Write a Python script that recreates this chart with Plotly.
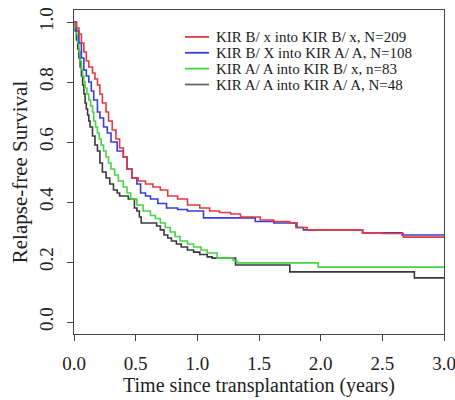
import plotly.graph_objects as go

# ---- data ----
red_t = [0, .02, .04, .06, .08, .10, .12, .15, .17, .19, .21, .23, .26, .28, .31, .34, .37, .40, .43, .47,
         .52, .58, .64, .70, .76, .84, .92, 1.02, 1.10, 1.18, 1.27, 1.35, 1.51, 1.62, 1.75, 1.81, 1.89, 2.34,
         2.50, 2.67, 3.0]
red_s = [1, .98, .96, .93, .90, .87, .85, .83, .81, .79, .76, .73, .70, .67, .64, .61, .58, .55, .51, .48,
         .47, .46, .45, .44, .42, .41, .39, .38, .37, .365, .36, .35, .34, .335, .33, .315, .307, .297,
         .295, .283, .283]

blue_t = [0, .02, .04, .06, .08, .10, .12, .14, .16, .19, .21, .24, .27, .30, .35, .40, .43, .47, .51, .54,
          .58, .62, .68, .75, .84, .92, 1.05, 1.47, 1.62, 1.80, 1.86, 2.34, 2.66, 3.0]
blue_s = [1, .97, .93, .88, .84, .82, .80, .77, .74, .70, .68, .65, .63, .60, .57, .55, .51, .48, .46, .43,
          .42, .41, .395, .38, .375, .37, .347, .335, .33, .315, .307, .297, .29, .29]

green_t = [0, .01, .02, .03, .04, .05, .06, .07, .08, .09, .105, .12, .135, .15, .16, .175, .19, .205, .22,
           .24, .26, .28, .30, .33, .36, .40, .43, .46, .51, .56, .62, .66, .70, .74, .78, .82, .86, .92, .97,
           1.03, 1.08, 1.16, 1.29, 1.32, 1.98, 3.0]
green_s = [1, .98, .96, .93, .90, .87, .84, .82, .80, .78, .76, .74, .72, .70, .67, .65, .63, .61, .59,
           .57, .55, .53, .51, .49, .47, .45, .43, .41, .39, .37, .355, .345, .33, .315, .30, .285, .27, .26,
           .25, .24, .23, .213, .205, .197, .183, .183]

black_t = [0, .01, .02, .03, .04, .05, .06, .07, .08, .09, .10, .11, .12, .13, .15, .17, .19, .21, .23, .26,
           .29, .32, .35, .37, .44, .49, .51, .53, .545, .64, .67, .70, .73, .76, .79, .83, .87, .92, .97,
           1.02, 1.08, 1.12, 1.31, 1.75, 2.76, 3.0]
black_s = [1, .97, .94, .91, .88, .85, .82, .79, .76, .73, .71, .69, .67, .65, .62, .59, .57, .53, .50, .48,
           .46, .44, .43, .42, .41, .38, .37, .35, .33, .33, .32, .307, .29, .28, .27, .26, .25, .24, .233,
           .225, .217, .213, .19, .167, .147, .147]

labels = ["KIR B/ x into KIR B/ x, N=209",
          "KIR B/ X into KIR A/ A, N=108",
          "KIR A/ A into KIR B/ x, n=83",
          "KIR A/ A into KIR A/ A, N=48"]
colors = ["#e33a3e", "#3b3bd9", "#46d446", "#3a3a3a"]
legend_colors = ["#e33a3e", "#3b3bd9", "#46d446", "#666666"]

x_ticks = [0.0, 0.5, 1.0, 1.5, 2.0, 2.5, 3.0]
y_ticks = [0.0, 0.2, 0.4, 0.6, 0.8, 1.0]

FONT = "Liberation Serif"
TXT = "#222222"

fig = go.Figure()
series = [(red_t, red_s), (blue_t, blue_s), (green_t, green_s), (black_t, black_s)]
order = [3, 2, 1, 0]
for i in order:
    t, s = series[i]
    fig.add_trace(go.Scatter(x=t, y=s, mode="lines", line=dict(color=colors[i], width=1.6, shape="hv"),
                             name=labels[i], showlegend=False, hoverinfo="skip"))

# manual legend (R style, no box)
row_y = [0.917, 0.868, 0.819, 0.770]
for i in range(4):
    fig.add_shape(type="line", xref="paper", yref="paper", x0=0.300, x1=0.365, y0=row_y[i], y1=row_y[i],
                  line=dict(color=legend_colors[i], width=1.8))
    fig.add_annotation(xref="paper", yref="paper", x=0.378, y=row_y[i], text=labels[i], showarrow=False,
                       xanchor="left", yanchor="middle", font=dict(family=FONT, size=15, color=TXT))

axis_common = dict(showgrid=False, zeroline=False, showline=True, linecolor="#444444", linewidth=1.2,
                   mirror=True, ticks="outside", ticklen=6, tickcolor="#444444", tickwidth=1.2,
                   automargin=False, ticklabeloverflow="allow")

fig.update_xaxes(range=[0, 3], tickvals=x_ticks, ticktext=[f"{v:.1f}" for v in x_ticks],
                 tickfont=dict(family=FONT, size=19, color=TXT), ticklabelstandoff=6,
                 title=dict(text="Time since transplantation (years)", font=dict(family=FONT, size=20, color=TXT),
                            standoff=4),
                 **axis_common)
fig.update_yaxes(range=[-0.04, 1.04], tickvals=y_ticks, ticktext=[f"{v:.1f}" for v in y_ticks],
                 tickangle=-90, tickfont=dict(family=FONT, size=19, color=TXT), ticklabelstandoff=6,
                 title=dict(text="Relapse-free Survival", font=dict(family=FONT, size=21, color=TXT), standoff=2),
                 **axis_common)

fig.update_layout(width=455, height=400, margin=dict(l=74, r=11, t=10, b=66),
                  paper_bgcolor="white", plot_bgcolor="white", showlegend=False)

# remove the default 8px page margin so the 455x400 figure fills the window exactly
fig.write_html("out.html", config={"displayModeBar": False},
               post_script="document.body.style.margin='0';document.body.style.overflow='hidden';")
